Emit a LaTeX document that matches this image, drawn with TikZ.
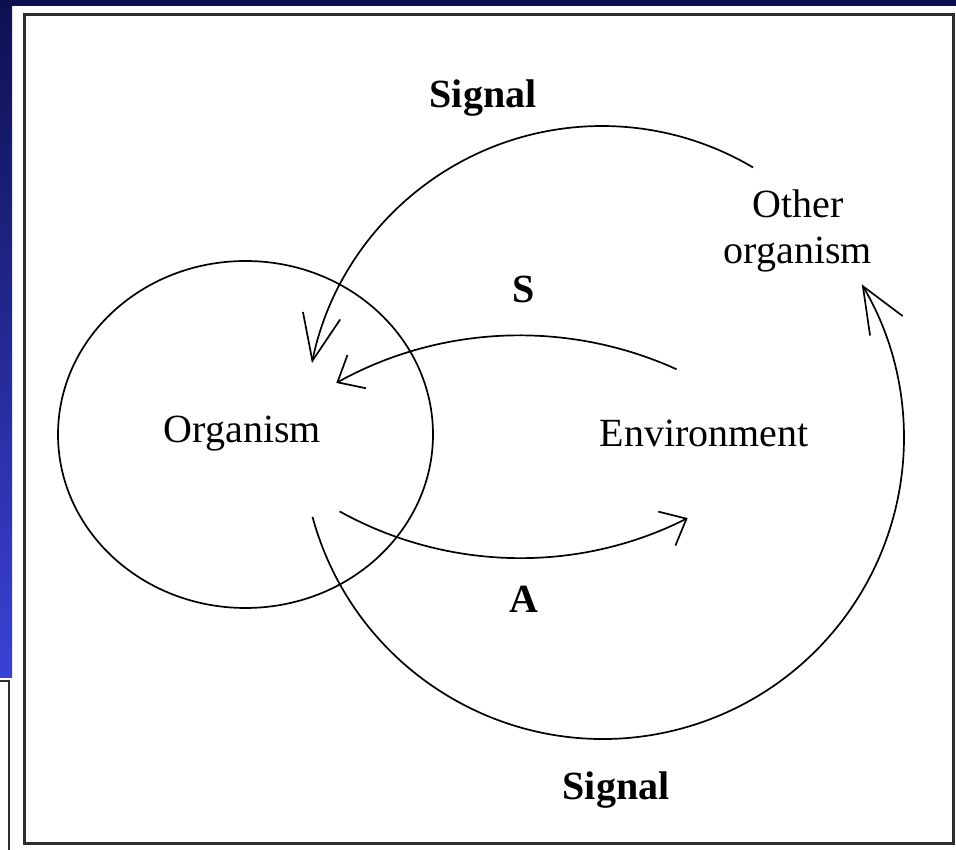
\documentclass[tikz,border=0pt]{standalone}
\usepackage{fontspec}
\setmainfont{Liberation Serif}
\usetikzlibrary{arrows.meta,shapes.geometric}
\definecolor{navy}{HTML}{0D1050}
\definecolor{stripbot}{HTML}{3A42D6}
\definecolor{framegray}{HTML}{2E2E2E}
\begin{document}
\begin{tikzpicture}[x=1pt,y=1pt,
  lbl/.style={font=\fontsize{40}{46}\selectfont, inner sep=0pt, anchor=base},
  blbl/.style={font=\fontsize{40}{46}\selectfont\bfseries, inner sep=0pt, anchor=base},
  curve/.style={line width=1.7pt, draw=black},
  bigtip/.style={-{Straight Barb[length=46pt,width=38pt]}},
  smalltip/.style={-{Straight Barb[length=22pt,width=38pt]}}]
\useasboundingbox (0,0) rectangle (956,850);
% background decoration
\fill[white] (0,0) rectangle (956,850);
\fill[navy] (0,844) rectangle (956,850);
\shade[top color=navy, bottom color=stripbot] (0,172) rectangle (12,850);
\draw[line width=2.5pt, framegray] (0,169) -- (9,169) -- (9,0);
% main frame
\draw[line width=3pt, framegray] (24.5,6) rectangle (953,835);
% organism circle
\node (orgcircle) [ellipse, draw, line width=1.7pt, minimum width=375pt, minimum height=347pt, inner sep=0pt, outer sep=0pt] at (245.5,415.5) {};
% labels
\node (org) [lbl] at (242.5,407) {Organism};
\node (env) [lbl] at (704,403) {Environment};
\node (other) [font=\fontsize{40}{46}\selectfont, inner sep=0pt, align=center] at (798,619.3) {Other\\organism};
\node (sigtop) [blbl] at (483,742) {Signal};
\node (slbl) [blbl] at (524,547) {S};
\node (albl) [blbl] at (524,237) {A};
\node (sigbot) [blbl] at (616,50) {Signal};
% arc endpoints
\coordinate (sigTopStart) at (753.1,682.5);
\coordinate (sStart) at (676.6,480.7);
\coordinate (aStart) at (339.6,338.6);
\coordinate (sigBotStart) at (312.5,333.1);
% arcs
\draw[curve, bigtip] (sigTopStart) arc[start angle=59.3, end angle=168.5, radius=296];
\draw[curve, smalltip] (sStart) arc[start angle=65.6, end angle=119, radius=379];
\draw[curve, smalltip] (aStart) arc[start angle=241, end angle=296.8, radius=372];
\draw[curve, bigtip] (sigBotStart) arc[start angle=195.2, end angle=390.7, radius=301];
\end{tikzpicture}
\end{document}
